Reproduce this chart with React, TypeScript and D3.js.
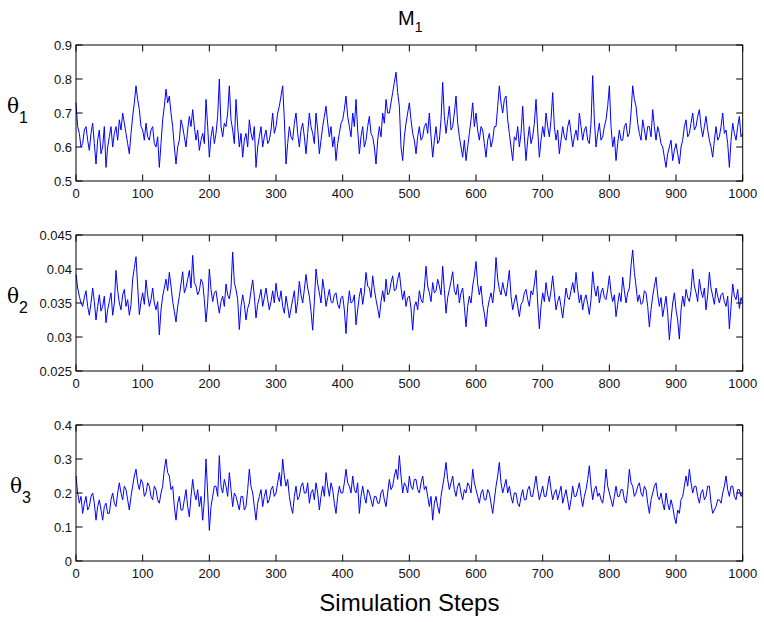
import React from "react";
import * as d3 from "d3";

const width = 764;
const height = 622;
const left = 76;
const right = 742.7;
const panelTops = [45, 235, 425];
const panelH = 136;
const tickLen = 6.5;

// one sample every 2.5 simulation steps, 0..1000
const stepSize = 2.5;

const theta1 = [
  0.73, 0.66, 0.64, 0.60, 0.61, 0.65, 0.66, 0.62, 0.59, 0.64, 0.67, 0.61, 0.55, 0.62, 0.65, 0.58, 0.60, 0.66, 0.54, 0.60,
  0.63, 0.66, 0.60, 0.64, 0.66, 0.62, 0.68, 0.65, 0.70, 0.67, 0.64, 0.61, 0.58, 0.64, 0.69, 0.73, 0.78, 0.74, 0.71, 0.66,
  0.65, 0.62, 0.67, 0.63, 0.62, 0.65, 0.66, 0.61, 0.60, 0.63, 0.54, 0.61, 0.68, 0.72, 0.77, 0.73, 0.75, 0.70, 0.66, 0.60,
  0.55, 0.60, 0.62, 0.68, 0.66, 0.63, 0.60, 0.65, 0.69, 0.66, 0.71, 0.66, 0.62, 0.65, 0.59, 0.62, 0.64, 0.61, 0.74, 0.66,
  0.57, 0.63, 0.66, 0.61, 0.64, 0.69, 0.80, 0.66, 0.63, 0.67, 0.66, 0.70, 0.78, 0.68, 0.65, 0.61, 0.74, 0.66, 0.60, 0.64,
  0.57, 0.62, 0.64, 0.60, 0.68, 0.64, 0.62, 0.66, 0.54, 0.60, 0.63, 0.66, 0.60, 0.63, 0.65, 0.61, 0.62, 0.65, 0.70, 0.64,
  0.66, 0.70, 0.72, 0.75, 0.78, 0.68, 0.55, 0.61, 0.66, 0.63, 0.62, 0.67, 0.70, 0.64, 0.60, 0.65, 0.67, 0.63, 0.58, 0.64,
  0.70, 0.66, 0.64, 0.61, 0.70, 0.65, 0.58, 0.62, 0.66, 0.69, 0.72, 0.67, 0.63, 0.66, 0.60, 0.63, 0.56, 0.61, 0.64, 0.67,
  0.68, 0.71, 0.75, 0.69, 0.66, 0.63, 0.70, 0.66, 0.74, 0.65, 0.58, 0.63, 0.66, 0.60, 0.62, 0.66, 0.69, 0.64, 0.63, 0.60,
  0.55, 0.62, 0.66, 0.63, 0.70, 0.67, 0.74, 0.70, 0.70, 0.73, 0.76, 0.79, 0.82, 0.76, 0.72, 0.60, 0.56, 0.63, 0.67, 0.70,
  0.73, 0.68, 0.64, 0.62, 0.58, 0.63, 0.66, 0.62, 0.63, 0.66, 0.67, 0.64, 0.70, 0.63, 0.57, 0.62, 0.66, 0.61, 0.62, 0.68,
  0.79, 0.69, 0.64, 0.68, 0.72, 0.65, 0.66, 0.70, 0.75, 0.67, 0.63, 0.60, 0.57, 0.62, 0.56, 0.60, 0.64, 0.68, 0.73, 0.66,
  0.70, 0.65, 0.62, 0.66, 0.65, 0.61, 0.57, 0.62, 0.64, 0.60, 0.62, 0.66, 0.66, 0.72, 0.78, 0.73, 0.70, 0.74, 0.75, 0.68,
  0.64, 0.60, 0.56, 0.63, 0.62, 0.66, 0.60, 0.64, 0.72, 0.63, 0.56, 0.62, 0.66, 0.61, 0.63, 0.67, 0.74, 0.65, 0.57, 0.62,
  0.66, 0.63, 0.70, 0.66, 0.63, 0.68, 0.76, 0.66, 0.62, 0.65, 0.58, 0.62, 0.66, 0.63, 0.62, 0.66, 0.68, 0.64, 0.60, 0.63,
  0.65, 0.62, 0.70, 0.66, 0.62, 0.65, 0.66, 0.62, 0.61, 0.67, 0.81, 0.68, 0.60, 0.64, 0.67, 0.62, 0.63, 0.66, 0.68, 0.72,
  0.78, 0.66, 0.60, 0.63, 0.56, 0.61, 0.65, 0.62, 0.62, 0.66, 0.67, 0.63, 0.64, 0.70, 0.78, 0.74, 0.72, 0.67, 0.64, 0.62,
  0.68, 0.65, 0.62, 0.66, 0.66, 0.63, 0.71, 0.66, 0.62, 0.66, 0.64, 0.61, 0.60, 0.57, 0.54, 0.58, 0.60, 0.62, 0.56, 0.59,
  0.61, 0.58, 0.55, 0.60, 0.62, 0.66, 0.68, 0.63, 0.64, 0.67, 0.70, 0.65, 0.66, 0.69, 0.71, 0.66, 0.63, 0.66, 0.69, 0.65,
  0.62, 0.60, 0.57, 0.62, 0.66, 0.62, 0.63, 0.66, 0.70, 0.64, 0.65, 0.61, 0.54, 0.62, 0.67, 0.64, 0.62, 0.66, 0.69, 0.63,
  0.64,
];

const theta2 = [
  0.0392, 0.0372, 0.0360, 0.0350, 0.0345, 0.0358, 0.0368, 0.0345, 0.0332, 0.0350, 0.0372, 0.0352, 0.0325, 0.0345, 0.0362, 0.0338, 0.0345, 0.0360, 0.0321, 0.0340,
  0.0352, 0.0365, 0.0332, 0.0350, 0.0398, 0.0368, 0.0350, 0.0340, 0.0362, 0.0370, 0.0345, 0.0355, 0.0332, 0.0348, 0.0385, 0.0402, 0.0418, 0.0375, 0.0333, 0.0352,
  0.0365, 0.0348, 0.0384, 0.0362, 0.0345, 0.0355, 0.0372, 0.0350, 0.0340, 0.0352, 0.0303, 0.0340, 0.0360, 0.0372, 0.0385, 0.0368, 0.0395, 0.0375, 0.0352, 0.0338,
  0.0322, 0.0345, 0.0360, 0.0378, 0.0396, 0.0365, 0.0372, 0.0385, 0.0398, 0.0372, 0.0420, 0.0380, 0.0375, 0.0362, 0.0368, 0.0385, 0.0380, 0.0355, 0.0322, 0.0350,
  0.0400, 0.0370, 0.0352, 0.0365, 0.0368, 0.0350, 0.0335, 0.0352, 0.0360, 0.0345, 0.0378, 0.0362, 0.0356, 0.0372, 0.0425, 0.0380, 0.0370, 0.0355, 0.0311, 0.0345,
  0.0362, 0.0348, 0.0325, 0.0342, 0.0350, 0.0368, 0.0384, 0.0360, 0.0328, 0.0348, 0.0358, 0.0370, 0.0345, 0.0358, 0.0372, 0.0355, 0.0340, 0.0352, 0.0368, 0.0350,
  0.0379, 0.0360, 0.0352, 0.0368, 0.0345, 0.0335, 0.0360, 0.0345, 0.0328, 0.0342, 0.0355, 0.0368, 0.0335, 0.0352, 0.0382, 0.0362, 0.0350, 0.0370, 0.0392, 0.0372,
  0.0360, 0.0338, 0.0310, 0.0352, 0.0400, 0.0378, 0.0365, 0.0350, 0.0385, 0.0368, 0.0345, 0.0358, 0.0370, 0.0352, 0.0350, 0.0362, 0.0365, 0.0348, 0.0342, 0.0358,
  0.0360, 0.0340, 0.0305, 0.0345, 0.0368, 0.0350, 0.0352, 0.0362, 0.0318, 0.0340, 0.0360, 0.0372, 0.0348, 0.0365, 0.0395, 0.0375, 0.0372, 0.0358, 0.0390, 0.0370,
  0.0355, 0.0342, 0.0328, 0.0352, 0.0368, 0.0352, 0.0385, 0.0362, 0.0365, 0.0380, 0.0390, 0.0368, 0.0370, 0.0385, 0.0395, 0.0372, 0.0355, 0.0368, 0.0345, 0.0358,
  0.0360, 0.0342, 0.0310, 0.0345, 0.0352, 0.0340, 0.0368, 0.0355, 0.0350, 0.0372, 0.0404, 0.0375, 0.0365, 0.0352, 0.0380, 0.0365, 0.0368, 0.0385, 0.0375, 0.0362,
  0.0404, 0.0370, 0.0335, 0.0358, 0.0370, 0.0382, 0.0396, 0.0368, 0.0362, 0.0378, 0.0350, 0.0365, 0.0372, 0.0345, 0.0315, 0.0345, 0.0360, 0.0350, 0.0375, 0.0390,
  0.0411, 0.0378, 0.0362, 0.0375, 0.0348, 0.0335, 0.0315, 0.0342, 0.0355, 0.0365, 0.0350, 0.0372, 0.0417, 0.0385, 0.0370, 0.0362, 0.0380, 0.0368, 0.0360, 0.0378,
  0.0398, 0.0360, 0.0340, 0.0352, 0.0362, 0.0345, 0.0330, 0.0348, 0.0352, 0.0365, 0.0370, 0.0355, 0.0345, 0.0368, 0.0362, 0.0378, 0.0398, 0.0350, 0.0312, 0.0345,
  0.0365, 0.0352, 0.0380, 0.0362, 0.0352, 0.0368, 0.0390, 0.0365, 0.0340, 0.0352, 0.0360, 0.0345, 0.0328, 0.0350, 0.0372, 0.0358, 0.0355, 0.0368, 0.0380, 0.0365,
  0.0395, 0.0370, 0.0350, 0.0362, 0.0340, 0.0355, 0.0362, 0.0348, 0.0333, 0.0355, 0.0396, 0.0372, 0.0360, 0.0375, 0.0350, 0.0365, 0.0372, 0.0358, 0.0355, 0.0370,
  0.0390, 0.0365, 0.0352, 0.0362, 0.0330, 0.0348, 0.0365, 0.0352, 0.0388, 0.0368, 0.0350, 0.0365, 0.0372, 0.0405, 0.0428, 0.0395, 0.0375, 0.0352, 0.0362, 0.0348,
  0.0350, 0.0368, 0.0365, 0.0345, 0.0315, 0.0340, 0.0360, 0.0375, 0.0388, 0.0362, 0.0345, 0.0358, 0.0330, 0.0345, 0.0360, 0.0335, 0.0296, 0.0325, 0.0350, 0.0365,
  0.0340, 0.0325, 0.0297, 0.0340, 0.0360, 0.0345, 0.0370, 0.0358, 0.0352, 0.0368, 0.0400, 0.0375, 0.0365, 0.0352, 0.0385, 0.0368, 0.0358, 0.0372, 0.0340, 0.0362,
  0.0395, 0.0372, 0.0360, 0.0348, 0.0372, 0.0360, 0.0350, 0.0362, 0.0365, 0.0352, 0.0345, 0.0360, 0.0312, 0.0345, 0.0378, 0.0360, 0.0355, 0.0370, 0.0342, 0.0358,
  0.0350,
];

const theta3 = [
  0.25, 0.20, 0.17, 0.19, 0.14, 0.17, 0.19, 0.15, 0.16, 0.19, 0.20, 0.17, 0.12, 0.16, 0.18, 0.15, 0.12, 0.16, 0.17, 0.14,
  0.14, 0.18, 0.20, 0.17, 0.16, 0.20, 0.23, 0.20, 0.18, 0.22, 0.21, 0.18, 0.15, 0.19, 0.22, 0.25, 0.27, 0.23, 0.21, 0.24,
  0.23, 0.19, 0.20, 0.23, 0.22, 0.19, 0.18, 0.22, 0.21, 0.18, 0.17, 0.20, 0.22, 0.27, 0.30, 0.26, 0.25, 0.21, 0.22, 0.16,
  0.12, 0.17, 0.19, 0.15, 0.15, 0.18, 0.21, 0.16, 0.13, 0.19, 0.24, 0.20, 0.18, 0.21, 0.16, 0.19, 0.12, 0.18, 0.30, 0.20,
  0.09, 0.16, 0.19, 0.22, 0.22, 0.19, 0.31, 0.22, 0.20, 0.24, 0.22, 0.19, 0.26, 0.21, 0.16, 0.20, 0.19, 0.17, 0.15, 0.19,
  0.19, 0.15, 0.16, 0.21, 0.27, 0.22, 0.20, 0.16, 0.12, 0.17, 0.19, 0.21, 0.16, 0.19, 0.21, 0.17, 0.18, 0.21, 0.22, 0.19,
  0.20, 0.23, 0.26, 0.22, 0.30, 0.25, 0.22, 0.24, 0.19, 0.16, 0.14, 0.19, 0.22, 0.18, 0.19, 0.22, 0.23, 0.20, 0.20, 0.23,
  0.17, 0.20, 0.21, 0.18, 0.23, 0.20, 0.15, 0.19, 0.22, 0.19, 0.26, 0.22, 0.19, 0.23, 0.21, 0.17, 0.14, 0.19, 0.22, 0.20,
  0.20, 0.23, 0.27, 0.23, 0.22, 0.20, 0.25, 0.21, 0.20, 0.23, 0.14, 0.19, 0.22, 0.19, 0.17, 0.21, 0.20, 0.18, 0.16, 0.19,
  0.19, 0.17, 0.17, 0.20, 0.21, 0.18, 0.16, 0.20, 0.24, 0.21, 0.22, 0.25, 0.27, 0.24, 0.31, 0.25, 0.20, 0.23, 0.22, 0.20,
  0.25, 0.22, 0.21, 0.24, 0.24, 0.21, 0.20, 0.23, 0.25, 0.21, 0.22, 0.19, 0.16, 0.19, 0.12, 0.17, 0.19, 0.16, 0.14, 0.19,
  0.22, 0.25, 0.29, 0.24, 0.21, 0.23, 0.25, 0.21, 0.19, 0.22, 0.23, 0.20, 0.18, 0.21, 0.20, 0.23, 0.22, 0.20, 0.27, 0.23,
  0.21, 0.19, 0.17, 0.20, 0.21, 0.18, 0.18, 0.21, 0.20, 0.17, 0.14, 0.18, 0.22, 0.25, 0.29, 0.23, 0.20, 0.22, 0.24, 0.20,
  0.22, 0.19, 0.17, 0.20, 0.20, 0.17, 0.16, 0.19, 0.21, 0.18, 0.18, 0.21, 0.22, 0.19, 0.19, 0.22, 0.25, 0.21, 0.18, 0.20,
  0.22, 0.19, 0.19, 0.22, 0.25, 0.21, 0.18, 0.20, 0.21, 0.18, 0.20, 0.22, 0.17, 0.19, 0.21, 0.18, 0.15, 0.18, 0.22, 0.19,
  0.19, 0.21, 0.23, 0.19, 0.16, 0.19, 0.21, 0.24, 0.28, 0.22, 0.18, 0.21, 0.22, 0.19, 0.20, 0.18, 0.17, 0.21, 0.27, 0.22,
  0.20, 0.18, 0.16, 0.19, 0.22, 0.19, 0.19, 0.21, 0.21, 0.18, 0.17, 0.21, 0.27, 0.23, 0.22, 0.19, 0.20, 0.22, 0.23, 0.20,
  0.19, 0.22, 0.21, 0.17, 0.14, 0.18, 0.20, 0.22, 0.23, 0.19, 0.18, 0.20, 0.17, 0.15, 0.20, 0.17, 0.15, 0.18, 0.16, 0.13,
  0.11, 0.15, 0.14, 0.18, 0.19, 0.22, 0.25, 0.22, 0.27, 0.23, 0.20, 0.22, 0.22, 0.19, 0.17, 0.20, 0.21, 0.18, 0.19, 0.22,
  0.22, 0.17, 0.14, 0.15, 0.16, 0.18, 0.18, 0.17, 0.20, 0.22, 0.25, 0.21, 0.19, 0.22, 0.22, 0.19, 0.18, 0.21, 0.21, 0.19,
  0.20,
];

const xTicks = [0, 100, 200, 300, 400, 500, 600, 700, 800, 900, 1000];

const panels = [
  { sub: "1", values: theta1, domain: [0.5, 0.9], ticks: [0.5, 0.6, 0.7, 0.8, 0.9], labelX: 7 },
  { sub: "2", values: theta2, domain: [0.025, 0.045], ticks: [0.025, 0.03, 0.035, 0.04, 0.045], labelX: 7 },
  { sub: "3", values: theta3, domain: [0, 0.4], ticks: [0, 0.1, 0.2, 0.3, 0.4], labelX: 10 },
];

const font = "Arial, 'Liberation Sans', Helvetica, sans-serif";

function Panel({ top, p }) {
  const x = d3.scaleLinear().domain([0, 1000]).range([left, right]);
  const y = d3.scaleLinear().domain(p.domain).range([top + panelH, top]);
  const line = d3
    .line()
    .x((d, i) => x(i * stepSize))
    .y((d) => y(d));
  const mid = top + panelH / 2;
  return (
    <g>
      <path d={line(p.values)} fill="none" stroke="#0000ff" strokeWidth={1} />
      <rect x={left} y={top} width={right - left} height={panelH} fill="none" stroke="#000" strokeWidth={1} />
      {xTicks.map((t) => (
        <g key={"x" + t}>
          <line x1={x(t)} x2={x(t)} y1={top + panelH} y2={top + panelH - tickLen} stroke="#000" />
          <line x1={x(t)} x2={x(t)} y1={top} y2={top + tickLen} stroke="#000" />
          <text x={x(t)} y={top + panelH + 17} textAnchor="middle" fontSize={13} fontFamily={font} fill="#111">
            {t}
          </text>
        </g>
      ))}
      {p.ticks.map((t) => (
        <g key={"y" + t}>
          <line x1={left} x2={left + tickLen} y1={y(t)} y2={y(t)} stroke="#000" />
          <line x1={right} x2={right - tickLen} y1={y(t)} y2={y(t)} stroke="#000" />
          <text x={72} y={y(t)} dy="0.35em" textAnchor="end" fontSize={13} fontFamily={font} fill="#111">
            {String(t)}
          </text>
        </g>
      ))}
      <text x={p.labelX} y={mid} fontSize={20} fontFamily="'DejaVu Serif', serif" fill="#000">
        θ
        <tspan fontSize={16} fontFamily={font} dy={10}>
          {p.sub}
        </tspan>
      </text>
    </g>
  );
}

export default function App() {
  return (
    <div style={{ position: "absolute", left: 0, top: 0 }}>
      <svg width={width} height={height} style={{ display: "block", background: "#fff" }}>
        <text x={398} y={25} fontSize={20} fontFamily={font} fill="#000">
          M
          <tspan fontSize={14} dy={7}>1</tspan>
        </text>
        {panels.map((p, i) => (
          <Panel key={p.sub} top={panelTops[i]} p={p} />
        ))}
        <text x={(left + right) / 2} y={611} textAnchor="middle" fontSize={24} fontFamily={font} fill="#000">
          Simulation Steps
        </text>
      </svg>
    </div>
  );
}
